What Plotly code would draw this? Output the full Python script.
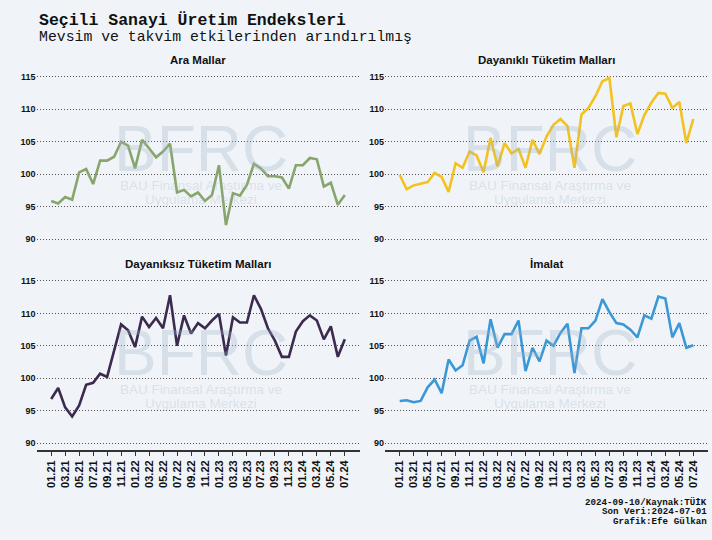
import plotly.graph_objects as go

months = ["01.21", "02.21", "03.21", "04.21", "05.21", "06.21", "07.21", "08.21", "09.21", "10.21", "11.21", "12.21",
          "01.22", "02.22", "03.22", "04.22", "05.22", "06.22", "07.22", "08.22", "09.22", "10.22", "11.22", "12.22",
          "01.23", "02.23", "03.23", "04.23", "05.23", "06.23", "07.23", "08.23", "09.23", "10.23", "11.23", "12.23",
          "01.24", "02.24", "03.24", "04.24", "05.24", "06.24", "07.24"]

tick_labels = ["01.21", "03.21", "05.21", "07.21", "09.21", "11.21", "01.22", "03.22", "05.22", "07.22", "09.22",
               "11.22", "01.23", "03.23", "05.23", "07.23", "09.23", "11.23", "01.24", "03.24", "05.24", "07.24"]

ara_mallar = [95.9, 95.5, 96.5, 96.1, 100.3, 100.8, 98.5, 102.1, 102.1, 102.7, 105.0, 104.4, 100.9, 105.3, 104.0,
              102.6, 103.5, 104.7, 97.2, 97.6, 96.6, 97.2, 95.9, 96.8, 101.4, 92.2, 97.1, 96.7, 98.4, 101.6, 100.9,
              99.7, 99.7, 99.5, 97.8, 101.4, 101.4, 102.5, 102.3, 98.1, 98.7, 95.3, 96.8]

dayanikli = [99.9, 97.7, 98.3, 98.5, 98.8, 100.2, 99.6, 97.3, 101.7, 101.0, 103.5, 102.9, 100.3, 105.6, 101.2,
             104.8, 103.2, 103.9, 101.0, 105.3, 103.1, 105.8, 107.6, 108.5, 107.4, 101.0, 109.2, 110.2, 112.0,
             114.3, 114.8, 105.7, 110.5, 110.9, 106.2, 109.1, 111.0, 112.5, 112.4, 110.2, 111.1, 104.8, 108.5]

dayaniksiz = [96.8, 98.5, 95.5, 94.1, 95.8, 99.0, 99.3, 100.7, 100.2, 104.2, 108.3, 107.4, 104.8, 109.5, 107.9,
              109.3, 107.7, 112.8, 105.0, 109.7, 106.9, 108.5, 107.7, 108.9, 109.9, 103.5, 109.4, 108.6, 108.6,
              112.8, 110.7, 107.7, 105.8, 103.3, 103.3, 107.2, 108.8, 109.7, 108.9, 106.0, 108.0, 103.3, 106.0]

imalat = [96.5, 96.6, 96.3, 96.5, 98.6, 99.8, 97.7, 102.9, 101.2, 102.0, 105.8, 106.4, 102.3, 109.1, 104.7,
          106.8, 106.8, 108.9, 101.1, 104.7, 102.6, 105.8, 105.0, 107.0, 108.4, 100.8, 107.7, 107.7, 108.9,
          112.2, 110.2, 108.5, 108.3, 107.5, 106.3, 109.7, 109.2, 112.6, 112.3, 106.3, 108.5, 104.7, 105.1]

panel_titles = ["Ara Mallar", "Dayanıklı Tüketim Malları", "Dayanıksız Tüketim Malları", "İmalat"]
series = [ara_mallar, dayanikli, dayaniksiz, imalat]
colors = ["#88a56b", "#f4c21f", "#3c2a4f", "#3a98d6"]
y_ticks = [90, 95, 100, 105, 110, 115]

W, H = 712, 540
BG = "#f0f4f8"
WM = "rgba(160,178,200,0.30)"

# panel pixel boxes: (left, right, top, bottom)
boxes = [(36.5, 359.5, 70.2, 246.5), (385, 708, 70.2, 246.5),
         (36.5, 359.5, 274.5, 450.2), (385, 708, 274.5, 450.2)]

fig = go.Figure()
annotations = []
for i, (vals, col, box, ttl) in enumerate(zip(series, colors, boxes, panel_titles)):
    n = "" if i == 0 else str(i + 1)
    fig.add_trace(go.Scatter(x=months, y=vals, mode="lines",
                             line=dict(color=col, width=2.6),
                             xaxis="x" + n, yaxis="y" + n, showlegend=False))
    l, r, t, b = box
    bottom = i >= 2
    fig.update_layout(**{
        "xaxis" + n: dict(domain=[l / W, r / W], anchor="y" + n, type="category",
                          categoryorder="array", categoryarray=months,
                          range=[-2.1, 44.1], showgrid=False, zeroline=False,
                          showline=bottom, linecolor="#333333", linewidth=1.5,
                          ticks="outside" if bottom else "", ticklen=4, tickwidth=1, tickcolor="#333333",
                          tickmode="array", tickvals=tick_labels, ticktext=tick_labels,
                          showticklabels=bottom, tickangle=-90,
                          tickfont=dict(family="Liberation Sans", size=11, color="#111111", weight="bold")),
        "yaxis" + n: dict(domain=[1 - b / H, 1 - t / H], anchor="x" + n,
                          range=[88.9, 116.0], tickmode="array", tickvals=y_ticks,
                          showgrid=True, gridcolor="#555555", gridwidth=1, griddash="1px,2px",
                          zeroline=False, showline=False, ticks="",
                          tickfont=dict(family="Liberation Sans", size=9, color="#111111", weight="bold")),
    })
    # subplot title
    annotations.append(dict(text=ttl, x=(l + r) / 2 / W, y=1 - (t - 10.5) / H, xref="paper", yref="paper",
                            xanchor="center", yanchor="middle", showarrow=False,
                            font=dict(family="Liberation Sans", size=11.5, color="#111111", weight="bold")))
    # watermark
    annotations.append(dict(text="BFRC", x=0.51, y=0.555, xref="x" + n + " domain", yref="y" + n + " domain",
                            xanchor="center", yanchor="middle", showarrow=False,
                            font=dict(family="Liberation Sans", size=64, color=WM)))
    annotations.append(dict(text="BAU Finansal Araştırma ve", x=0.51, y=0.345, xref="x" + n + " domain",
                            yref="y" + n + " domain", xanchor="center", yanchor="middle", showarrow=False,
                            font=dict(family="Liberation Sans", size=13.5, color=WM)))
    annotations.append(dict(text="Uygulama Merkezi", x=0.51, y=0.265, xref="x" + n + " domain",
                            yref="y" + n + " domain", xanchor="center", yanchor="middle", showarrow=False,
                            font=dict(family="Liberation Sans", size=13.5, color=WM)))

annotations.append(dict(text="Seçili Sanayi Üretim Endeksleri", x=37 / W, y=1 - 21 / H, xref="paper", yref="paper",
                        xanchor="left", yanchor="middle", showarrow=False,
                        font=dict(family="Liberation Mono", size=16.5, color="#111111", weight="bold")))
annotations.append(dict(text="Mevsim ve takvim etkilerinden arındırılmış", x=37 / W, y=1 - 37 / H,
                        xref="paper", yref="paper", xanchor="left", yanchor="middle", showarrow=False,
                        font=dict(family="Liberation Mono", size=14.8, color="#111111")))

footer = ["2024-09-10/Kaynak:TÜİK", "Son Veri:2024-07-01", "Grafik:Efe Gülkan"]
for k, txt in enumerate(footer):
    annotations.append(dict(text=txt, x=709 / W, y=1 - (502.5 + 9.3 * k) / H, xref="paper", yref="paper",
                            xanchor="right", yanchor="middle", showarrow=False,
                            font=dict(family="Liberation Mono", size=9.2, color="#111111", weight="bold")))

fig.update_layout(width=W, height=H, margin=dict(l=0, r=0, t=0, b=0),
                  paper_bgcolor=BG, plot_bgcolor=BG, annotations=annotations)

fig.write_html("out.html", config={"displayModeBar": False},
               post_script="document.body.style.margin='0px';document.body.style.overflow='hidden';"
                           "document.body.style.background='" + BG + "';")
